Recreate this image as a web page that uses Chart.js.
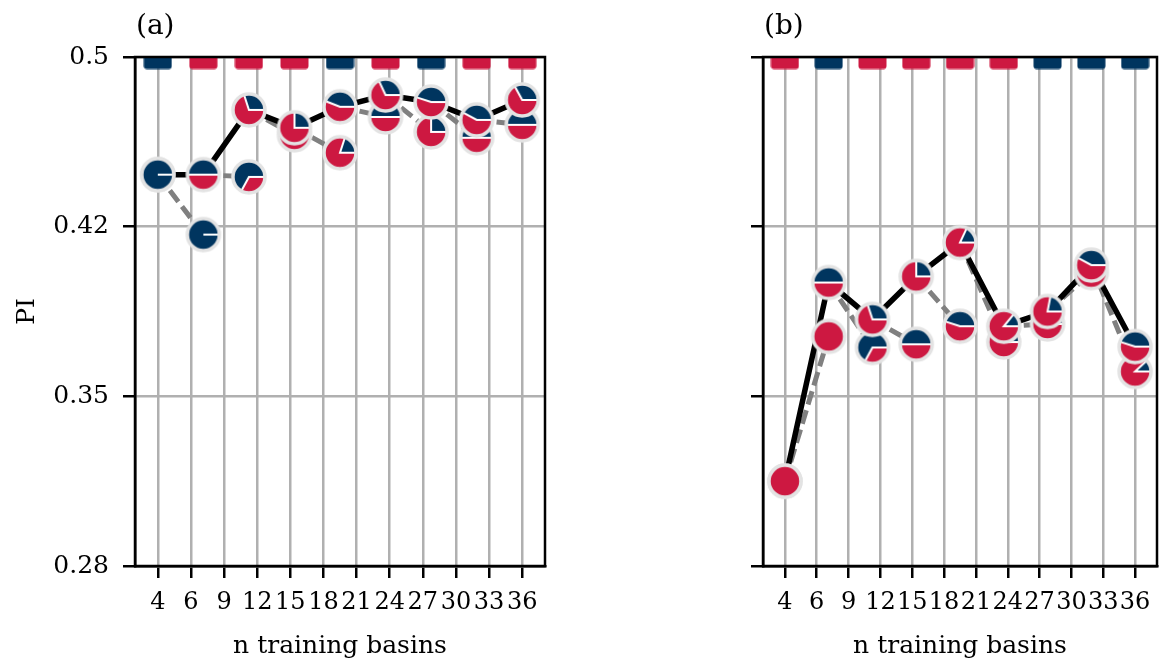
<!DOCTYPE html>
<html>
<head>
<meta charset="utf-8">
<script src="https://cdn.jsdelivr.net/npm/chart.js@4.4.1/dist/chart.umd.min.js"></script>
<style>
  html, body { margin: 0; padding: 0; background: #fff; }
  #wrap { position: relative; width: 1175px; height: 658px; overflow: hidden; }
  #chartA { position: absolute; left: 0; top: 0; }
  #chartB { position: absolute; left: 628px; top: 0; }
</style>
</head>
<body>
<div id="wrap">
  <canvas id="chartA" width="587" height="658"></canvas>
  <canvas id="chartB" width="547" height="658"></canvas>
</div>
<script>
// x positions of the experiments and the axis tick labels
const basins = [4, 8, 12, 16, 20, 24, 28, 32, 36];
const xTickLabels = ['4', '6', '9', '12', '15', '18', '21', '24', '27', '30', '33', '36'];
const yTickValues = [0.275, 0.35, 0.425, 0.5];
const yTickLabels = ['0.28', '0.35', '0.42', '0.5'];

// panel (a)
const aSelected = [0.448, 0.448, 0.4766, 0.4687, 0.478, 0.4832, 0.4801, 0.4722, 0.481];
const aSelectedShare = [1, 0.5, 0.3, 0.25, 0.44, 0.32, 0.45, 0.42, 0.33];
const aCandidate = [0.448, 0.4215, 0.447, 0.4656, 0.4577, 0.4735, 0.4669, 0.4643, 0.47];
const aCandidateShare = [1, 1, 0.67, 0.3, 0.2, 0.5, 0.25, 0.5, 0.5];
const aWinner = ['blue', 'red', 'red', 'red', 'blue', 'red', 'blue', 'red', 'red'];

// panel (b)
const bSelected = [0.3125, 0.4003, 0.384, 0.403, 0.418, 0.381, 0.3875, 0.408, 0.372];
const bSelectedShare = [0, 0.5, 0.3, 0.25, 0.18, 0.14, 0.22, 0.42, 0.45];
const bCandidate = [0.3125, 0.3765, 0.3716, 0.373, 0.381, 0.374, 0.382, 0.4047, 0.361];
const bCandidateShare = [0, 0, 0.67, 0.5, 0.45, 0.3, 0.3, 0.4, 0.12];
const bWinner = ['red', 'blue', 'red', 'red', 'red', 'red', 'blue', 'blue', 'blue'];

const NAVY = '#00355f';
const RED = '#cd1841';
const colorOf = { blue: NAVY, red: RED };

Chart.defaults.font.family = '"DejaVu Serif", serif';
Chart.defaults.color = '#000';

// small pie used as a point marker: blue share starts at 3 o'clock, counter-clockwise
function makePie(share) {
  const c = document.createElement('canvas');
  c.width = 38; c.height = 38;
  const g = c.getContext('2d');
  const cx = 19, cy = 19, r = 15;
  const end = -2 * Math.PI * share;
  g.fillStyle = RED;
  g.beginPath(); g.arc(cx, cy, r, 0, 2 * Math.PI); g.fill();
  if (share > 0) {
    g.fillStyle = NAVY;
    g.beginPath(); g.moveTo(cx, cy); g.arc(cx, cy, r, 0, end, true); g.closePath(); g.fill();
    g.strokeStyle = '#fff'; g.lineWidth = 2;
    g.beginPath();
    g.moveTo(cx + r, cy); g.lineTo(cx, cy);
    g.lineTo(cx + r * Math.cos(end), cy + r * Math.sin(end));
    g.stroke();
  }
  g.strokeStyle = '#e3e3e3'; g.lineWidth = 3.5;
  g.beginPath(); g.arc(cx, cy, r + 1, 0, 2 * Math.PI); g.stroke();
  return c;
}

function makeSquare(color) {
  const c = document.createElement('canvas');
  c.width = 29; c.height = 25;
  const g = c.getContext('2d');
  g.fillStyle = color;
  g.beginPath(); g.roundRect(0.5, 0.5, 28, 24, 3); g.fill();
  return c;
}

// dashed segments: from the selected point at step i-1 to the candidate at step i
function stepSegments(sel, cand) {
  const pts = [];
  for (let i = 1; i < basins.length; i++) {
    pts.push({ x: basins[i - 1], y: sel[i - 1] }, { x: basins[i], y: cand[i] }, { x: basins[i], y: null });
  }
  return pts;
}

const frame = {
  id: 'frame',
  afterDatasetsDraw(chart) {
    const { ctx, chartArea: a } = chart;
    ctx.save();
    ctx.strokeStyle = '#000';
    ctx.lineWidth = 2.5;
    ctx.strokeRect(a.left, a.top, a.right - a.left, a.bottom - a.top);
    ctx.restore();
  }
};

const panelLabel = {
  id: 'panelLabel',
  afterDraw(chart, args, opts) {
    const { ctx, chartArea: a } = chart;
    ctx.save();
    ctx.font = '28px "DejaVu Serif"';
    ctx.fillStyle = '#000';
    ctx.textBaseline = 'middle';
    ctx.fillText(opts.text, a.left + 1, 27);
    ctx.restore();
  }
};

function buildChart(id, label, sel, selShare, cand, candShare, winner, showY, rightPad) {
  const xy = (vals) => basins.map((x, i) => ({ x: x, y: vals[i] }));
  const gridStyle = { color: '#b0b0b0', lineWidth: 2.5, tickColor: '#000', tickWidth: 2.5, tickLength: 12 };
  new Chart(document.getElementById(id), {
    type: 'line',
    data: {
      datasets: [
        {
          data: stepSegments(sel, cand),
          borderColor: '#808080', borderWidth: 5, borderDash: [14, 6],
          pointRadius: 0, spanGaps: false, tension: 0, order: 5
        },
        {
          data: xy(sel),
          borderColor: '#000', borderWidth: 5.5,
          pointRadius: 0, tension: 0, order: 4
        },
        {
          data: xy(cand), showLine: false,
          pointStyle: candShare.map(makePie), pointRadius: 17, order: 3
        },
        {
          data: xy(sel), showLine: false,
          pointStyle: selShare.map(makePie), pointRadius: 17, order: 2
        },
        {
          data: basins.map(x => ({ x: x, y: 0.5 })), showLine: false, clip: 0,
          pointStyle: winner.map(w => makeSquare(colorOf[w])), pointRadius: 14,
          borderWidth: 0, order: 1
        }
      ]
    },
    options: {
      responsive: false,
      animation: false,
      events: [],
      layout: { padding: { top: 57, right: rightPad, left: 0, bottom: 0 } },
      plugins: {
        legend: { display: false },
        tooltip: { enabled: false },
        panelLabel: { text: label }
      },
      scales: {
        x: {
          type: 'linear', min: 2, max: 38,
          afterBuildTicks: (s) => {
            const step = (basins[basins.length - 1] - basins[0]) / (xTickLabels.length - 1);
            s.ticks = xTickLabels.map((t, k) => ({ value: basins[0] + k * step }));
          },
          afterFit: (s) => { s.height = 92; },
          ticks: {
            autoSkip: false, maxRotation: 0, minRotation: 0,
            callback: (v, i) => xTickLabels[i],
            font: { size: 24 }, padding: 10, color: '#000'
          },
          grid: gridStyle,
          border: { color: '#000', width: 2.5 },
          title: {
            display: true, text: 'n training basins', color: '#000',
            font: { size: 25, lineHeight: 1 }, padding: { top: 0, bottom: -1 }
          }
        },
        y: {
          min: 0.275, max: 0.5,
          afterBuildTicks: (s) => { s.ticks = yTickValues.map(v => ({ value: v })); },
          afterFit: (s) => { s.width = 135; },
          ticks: {
            callback: (v, i) => showY ? yTickLabels[i] : '',
            font: { size: 25 }, padding: 14, color: '#000'
          },
          grid: gridStyle,
          border: { color: '#000', width: 2.5 },
          title: {
            display: showY, text: 'PI', color: '#000',
            font: { size: 25, lineHeight: 1 }, padding: { top: 15, bottom: 0 }
          }
        }
      }
    },
    plugins: [frame, panelLabel]
  });
}

buildChart('chartA', '(a)', aSelected, aSelectedShare, aCandidate, aCandidateShare, aWinner, true, 42);
buildChart('chartB', '(b)', bSelected, bSelectedShare, bCandidate, bCandidateShare, bWinner, false, 2);
</script>
</body>
</html>
